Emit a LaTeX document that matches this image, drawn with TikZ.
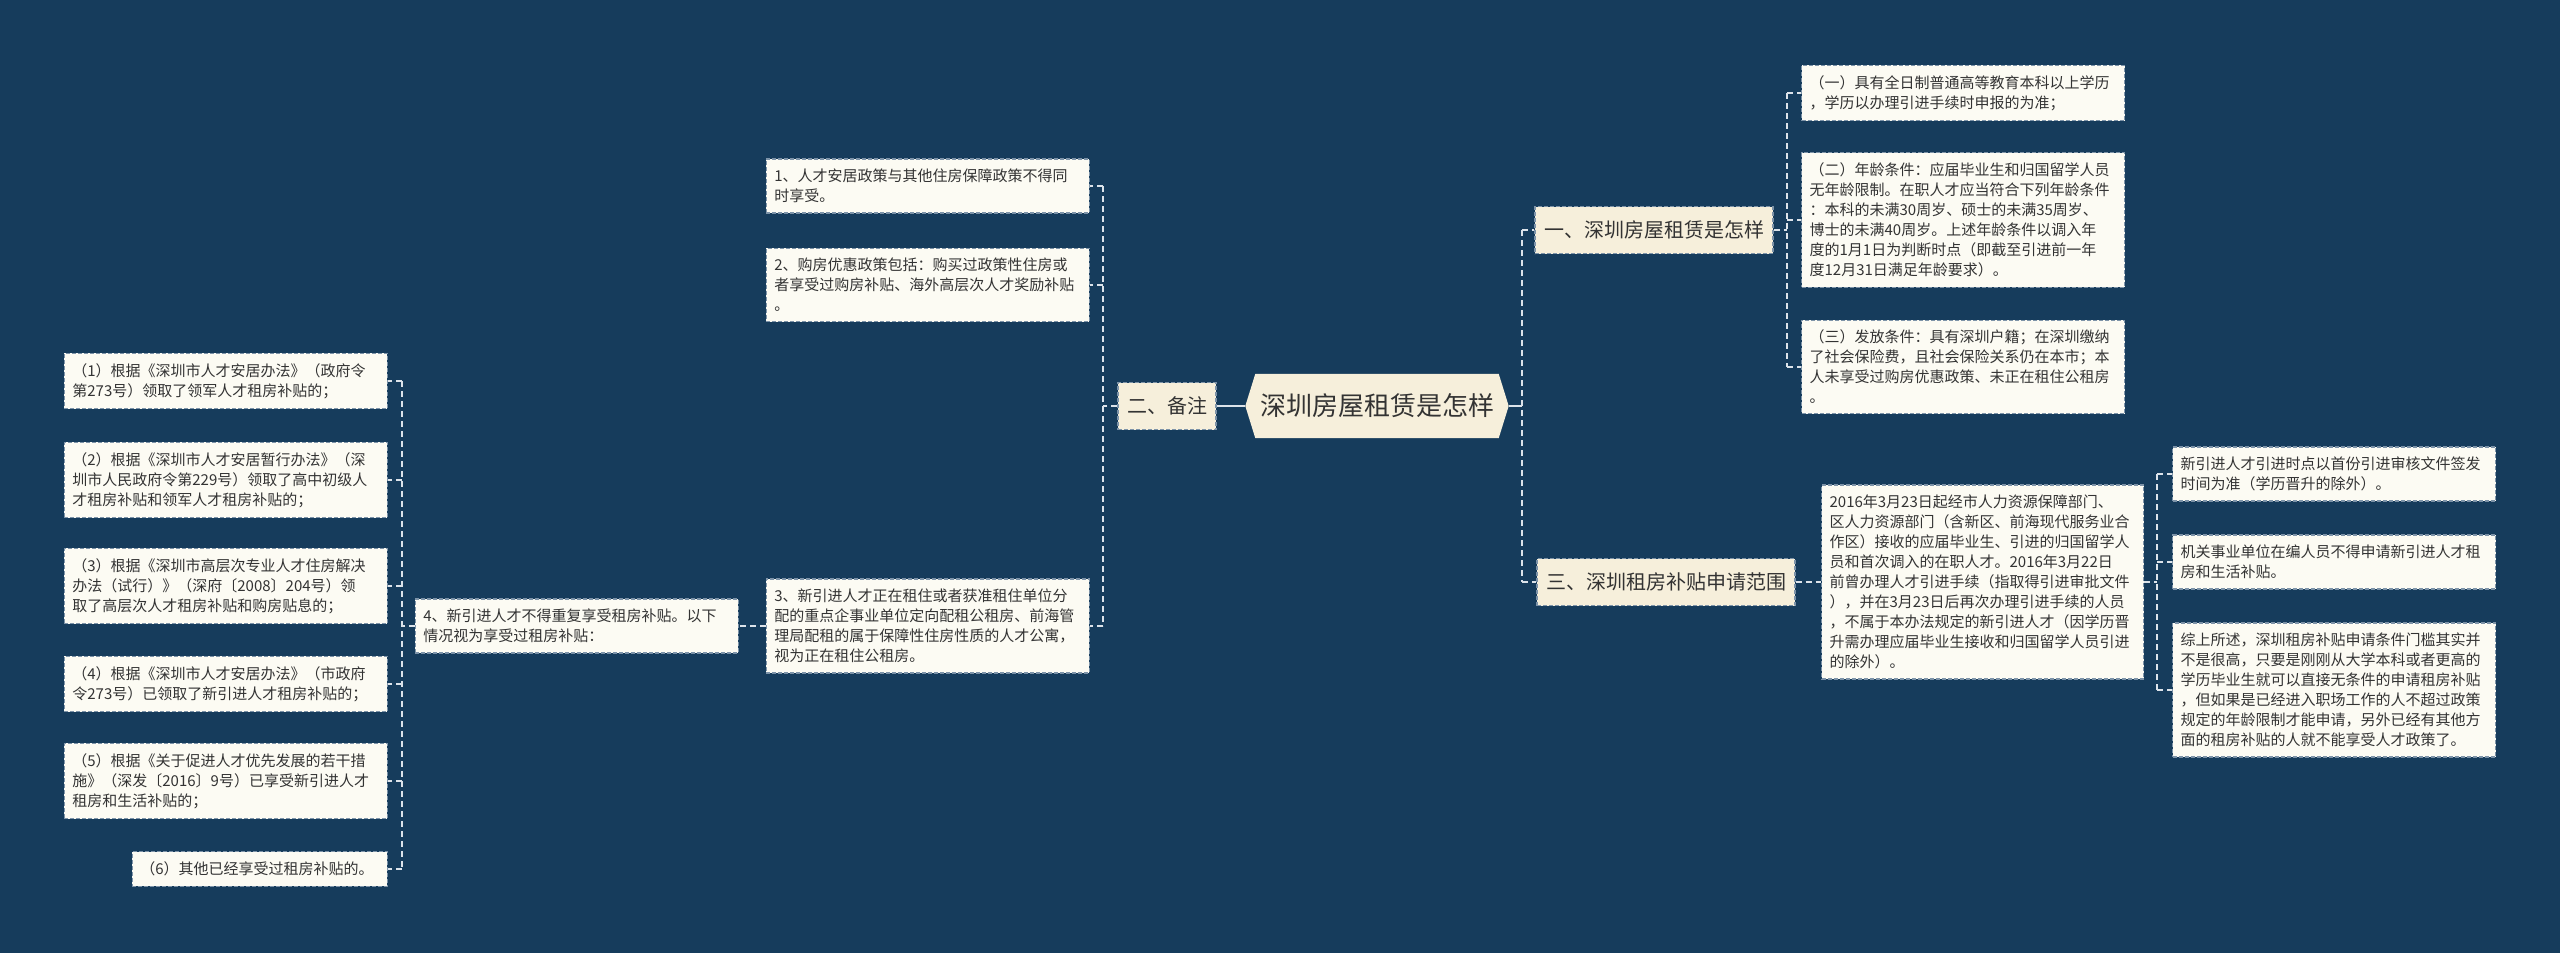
\documentclass[tikz,border=0pt]{standalone}
\usepackage{fontspec}
\newfontfamily\zhfont{Noto Sans CJK SC}
\usetikzlibrary{calc,backgrounds}
\definecolor{mapbg}{HTML}{163C5C}
\definecolor{mapink}{HTML}{333333}
\definecolor{mapcream}{HTML}{FCFBF3}
\definecolor{mapbeige}{HTML}{F6EFDB}
\definecolor{mapedge}{HTML}{7D93A8}
\definecolor{maplink}{HTML}{DCE3EA}

\begin{document}
\begin{tikzpicture}[x=1pt, y=-1pt,
  leaf/.style={draw=mapedge, fill=mapcream, text=mapink, line width=1.2pt,
    dash pattern=on 4pt off 2pt, align=left, text width=307pt,
    inner xsep=8pt, inner ysep=10pt, font=\zhfont\fontsize{15pt}{20pt}\selectfont},
  branch/.style={draw=mapedge, fill=mapbeige, text=mapink, line width=1.2pt,
    dash pattern=on 4pt off 2pt, inner xsep=9pt, minimum height=47pt,
    font=\zhfont\fontsize{20pt}{24pt}\selectfont},
  rootnode/.style={text=mapink, minimum width=263pt, minimum height=64pt, inner sep=0pt,
    font=\zhfont\fontsize{26pt}{30pt}\selectfont},
  link/.style={draw=maplink, line width=1.8pt, dash pattern=on 6pt off 4pt},
  rootlink/.style={draw=maplink, line width=2pt},
]
\useasboundingbox (0,0) rectangle (2560,953);

% ===== root =====
\node[rootnode] (root) at (1377,406) {深圳房屋租赁是怎样};

% ===== spines =====
\coordinate (sR) at (1522,0);
\coordinate (sA) at (1787,0);
\coordinate (sB) at (2157,0);
\coordinate (sL) at (1103,0);
\coordinate (sQ) at (402,0);

% =========================================================
% RIGHT: 一、深圳房屋租赁是怎样
% =========================================================
\node[branch] (one) at (1654,230) {一、深圳房屋租赁是怎样};
\node[leaf, anchor=west] (edu) at (1801,93)
  {（一）具有全日制普通高等教育本科以上学历\\，学历以办理引进手续时申报的为准；};
\node[leaf, anchor=west] (age) at (1801,220)
  {（二）年龄条件：应届毕业生和归国留学人员\\无年龄限制。在职人才应当符合下列年龄条件\\：本科的未满30周岁、硕士的未满35周岁、\\博士的未满40周岁。上述年龄条件以调入年\\度的1月1日为判断时点（即截至引进前一年\\度12月31日满足年龄要求）。};
\node[leaf, anchor=west] (issue) at (1801,367)
  {（三）发放条件：具有深圳户籍；在深圳缴纳\\了社会保险费，且社会保险关系仍在本市；本\\人未享受过购房优惠政策、未正在租住公租房\\。};

% =========================================================
% RIGHT: 三、深圳租房补贴申请范围
% =========================================================
\node[branch] (three) at (1666,582) {三、深圳租房补贴申请范围};
\node[leaf, anchor=west, text width=306pt] (policy) at (1821,582)
  {2016年3月23日起经市人力资源保障部门、\\区人力资源部门（含新区、前海现代服务业合\\作区）接收的应届毕业生、引进的归国留学人\\员和首次调入的在职人才。2016年3月22日\\前曾办理人才引进手续（指取得引进审批文件\\），并在3月23日后再次办理引进手续的人员\\，不属于本办法规定的新引进人才（因学历晋\\升需办理应届毕业生接收和归国留学人员引进\\的除外）。};
\node[leaf, anchor=west] (fresh) at (2172,474)
  {新引进人才引进时点以首份引进审核文件签发\\时间为准（学历晋升的除外）。};
\node[leaf, anchor=west] (staff) at (2172,562)
  {机关事业单位在编人员不得申请新引进人才租\\房和生活补贴。};
\node[leaf, anchor=west] (summary) at (2172,690)
  {综上所述，深圳租房补贴申请条件门槛其实并\\不是很高，只要是刚刚从大学本科或者更高的\\学历毕业生就可以直接无条件的申请租房补贴\\，但如果是已经进入职场工作的人不超过政策\\规定的年龄限制才能申请，另外已经有其他方\\面的租房补贴的人就不能享受人才政策了。};

% =========================================================
% LEFT: 二、备注
% =========================================================
\node[branch] (note) at (1167,406) {二、备注};
\node[leaf, anchor=east] (n1) at (1090,186)
  {1、人才安居政策与其他住房保障政策不得同\\时享受。};
\node[leaf, anchor=east] (n2) at (1090,285)
  {2、购房优惠政策包括：购买过政策性住房或\\者享受过购房补贴、海外高层次人才奖励补贴\\。};
\node[leaf, anchor=east] (n3) at (1090,626)
  {3、新引进人才正在租住或者获准租住单位分\\配的重点企事业单位定向配租公租房、前海管\\理局配租的属于保障性住房性质的人才公寓，\\视为正在租住公租房。};
\node[leaf, anchor=east] (n4) at (739,626)
  {4、新引进人才不得重复享受租房补贴。以下\\情况视为享受过租房补贴：};

% cases under 4
\node[leaf, anchor=east] (q1) at (388,381)
  {（1）根据《深圳市人才安居办法》（政府令\\第273号）领取了领军人才租房补贴的；};
\node[leaf, anchor=east] (q2) at (388,480)
  {（2）根据《深圳市人才安居暂行办法》（深\\圳市人民政府令第229号）领取了高中初级人\\才租房补贴和领军人才租房补贴的；};
\node[leaf, anchor=east] (q3) at (388,586)
  {（3）根据《深圳市高层次专业人才住房解决\\办法（试行）》（深府〔2008〕204号）领\\取了高层次人才租房补贴和购房贴息的；};
\node[leaf, anchor=east] (q4) at (388,684)
  {（4）根据《深圳市人才安居办法》（市政府\\令273号）已领取了新引进人才租房补贴的；};
\node[leaf, anchor=east] (q5) at (388,781)
  {（5）根据《关于促进人才优先发展的若干措\\施》（深发〔2016〕9号）已享受新引进人才\\租房和生活补贴的；};
\node[leaf, anchor=east, text width=239pt] (q6) at (388,869)
  {（6）其他已经享受过租房补贴的。};

% ===== connectors =====
\draw[rootlink] (root.west) -- (note.east);
\draw[rootlink] (root.east) -- (root.east -| sR);
\draw[link] (one.west -| sR) -- (three.west -| sR);
\foreach \c in {one,three}
  \draw[link] (\c.west -| sR) -- (\c.west);

\draw[link] (one.east) -- (one.east -| sA);
\draw[link] (edu.west -| sA) -- (issue.west -| sA);
\foreach \c in {edu,age,issue}
  \draw[link] (\c.west -| sA) -- (\c.west);

\draw[link] (three.east) -- (policy.west);
\draw[link] (policy.east) -- (policy.east -| sB);
\draw[link] (fresh.west -| sB) -- (summary.west -| sB);
\foreach \c in {fresh,staff,summary}
  \draw[link] (\c.west -| sB) -- (\c.west);

\draw[link] (note.west) -- (note.west -| sL);
\draw[link] (n1.east -| sL) -- (n3.east -| sL);
\foreach \c in {n1,n2,n3}
  \draw[link] (\c.east -| sL) -- (\c.east);

\draw[link] (n3.west) -- (n4.east);
\draw[link] (n4.west) -- (n4.west -| sQ);
\draw[link] (q1.east -| sQ) -- (q6.east -| sQ);
\foreach \c in {q1,q2,q3,q4,q5,q6}
  \draw[link] (\c.east -| sQ) -- (\c.east);

% ===== background and root hexagon =====
\begin{scope}[on background layer]
  \fill[mapbg] (0,0) rectangle (2560,953);
  \fill[mapbeige] (root.west) -- ($(root.north west)+(10,0)$) -- ($(root.north east)+(-10,0)$)
    -- (root.east) -- ($(root.south east)+(-10,0)$) -- ($(root.south west)+(10,0)$) -- cycle;
\end{scope}

\end{tikzpicture}
\end{document}
